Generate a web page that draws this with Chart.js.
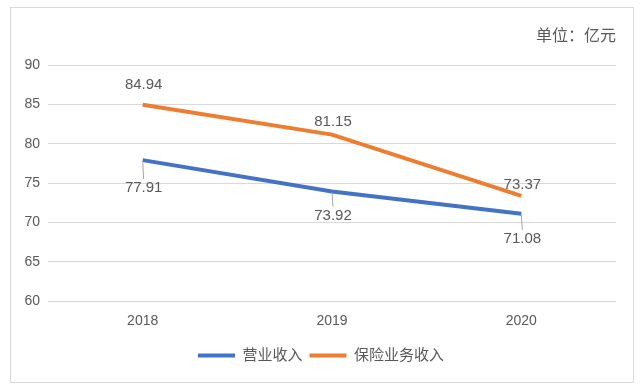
<!DOCTYPE html>
<html>
<head>
<meta charset="utf-8">
<script src="https://cdn.jsdelivr.net/npm/chart.js@4"></script>
<style>
html,body{margin:0;padding:0;background:#fff;}
#wrap{width:642px;height:391px;position:relative;}
</style>
</head>
<body>
<div id="wrap"><canvas id="c" width="642" height="391"></canvas></div>
<script>
const categories = ['2018', '2019', '2020'];
const seriesNames = ['营业收入', '保险业务收入'];
const revenue = [77.91, 73.92, 71.08];
const insuranceRevenue = [84.94, 81.15, 73.37];
const yTicks = [60, 65, 70, 75, 80, 85, 90];
const unitLabel = '单位：亿元';

const FONT = "'Liberation Sans', 'Noto Sans CJK SC', sans-serif";
const TEXT = '#595959';

// label placement (style only, vertical offsets in px from the point)
const labelStyle = [
  {dy: [28, 24, 25], leader: true},
  {dy: [-20, -13, -11], leader: false}
];

const frame = {
  id: 'frame',
  beforeDraw(chart) {
    const ctx = chart.ctx;
    ctx.save();
    ctx.fillStyle = '#fff';
    ctx.fillRect(0, 0, chart.width, chart.height);
    ctx.strokeStyle = '#d9d9d9';
    ctx.lineWidth = 1;
    ctx.strokeRect(10.5, 7.5, 623, 375);
    ctx.restore();
  },
  afterDraw(chart) {
    const ctx = chart.ctx;
    ctx.save();
    ctx.font = "16px " + FONT;
    ctx.fillStyle = TEXT;
    ctx.textAlign = 'right';
    ctx.textBaseline = 'middle';
    ctx.fillText(unitLabel, chart.chartArea.right, 37);
    ctx.restore();
  }
};

const dataLabels = {
  id: 'dataLabels',
  afterDatasetsDraw(chart) {
    const ctx = chart.ctx;
    ctx.save();
    ctx.font = "15px " + FONT;
    ctx.fillStyle = TEXT;
    ctx.textAlign = 'center';
    ctx.textBaseline = 'middle';
    chart.data.datasets.forEach((ds, di) => {
      const meta = chart.getDatasetMeta(di);
      const st = labelStyle[di];
      meta.data.forEach((pt, i) => {
        const v = ds.data[i];
        const x = pt.x, y = pt.y + st.dy[i];
        if (st.leader) {
          ctx.strokeStyle = '#a6a6a6';
          ctx.lineWidth = 1;
          ctx.beginPath();
          ctx.moveTo(x, pt.y + 1);
          ctx.lineTo(x + 1, y - 9);
          ctx.stroke();
        }
        ctx.fillText(v.toFixed(2), x + 1, y);
      });
    });
    ctx.restore();
  }
};

new Chart(document.getElementById('c'), {
  type: 'line',
  data: {
    labels: categories,
    datasets: [
      {label: seriesNames[0], data: revenue, borderColor: '#4472C4', backgroundColor: '#4472C4', borderWidth: 4, pointRadius: 0, tension: 0, borderCapStyle: 'butt'},
      {label: seriesNames[1], data: insuranceRevenue, borderColor: '#ED7D31', backgroundColor: '#ED7D31', borderWidth: 4, pointRadius: 0, tension: 0, borderCapStyle: 'butt'}
    ]
  },
  options: {
    responsive: false,
    animation: false,
    devicePixelRatio: 1,
    layout: {padding: {top: 65, right: 0, bottom: 18, left: 0}},
    plugins: {
      tooltip: {enabled: false},
      legend: {
        position: 'bottom',
        labels: {
          usePointStyle: true,
          pointStyle: 'line',
          pointStyleWidth: 37,
          boxHeight: 15,
          padding: 7,
          color: TEXT,
          font: {family: FONT, size: 15}
        }
      }
    },
    scales: {
      x: {
        offset: true,
        grid: {display: false, drawTicks: false},
        border: {display: false},
        ticks: {color: TEXT, font: {family: FONT, size: 14}, padding: 12},
        afterFit(s) { s.height = 40; }
      },
      y: {
        min: yTicks[0],
        max: yTicks[yTicks.length - 1],
        grid: {color: '#d9d9d9', lineWidth: 1, drawTicks: false},
        border: {display: false},
        afterBuildTicks(s) { s.ticks = yTicks.map(v => ({value: v})); },
        ticks: {color: TEXT, font: {family: FONT, size: 14}, padding: 8},
        afterFit(s) { s.width = 48; }
      },
      yRight: {
        position: 'right',
        display: true,
        grid: {display: false, drawTicks: false},
        border: {display: false},
        ticks: {display: false},
        afterFit(s) { s.width = 26; }
      }
    }
  },
  plugins: [frame, dataLabels]
});
</script>
</body>
</html>
